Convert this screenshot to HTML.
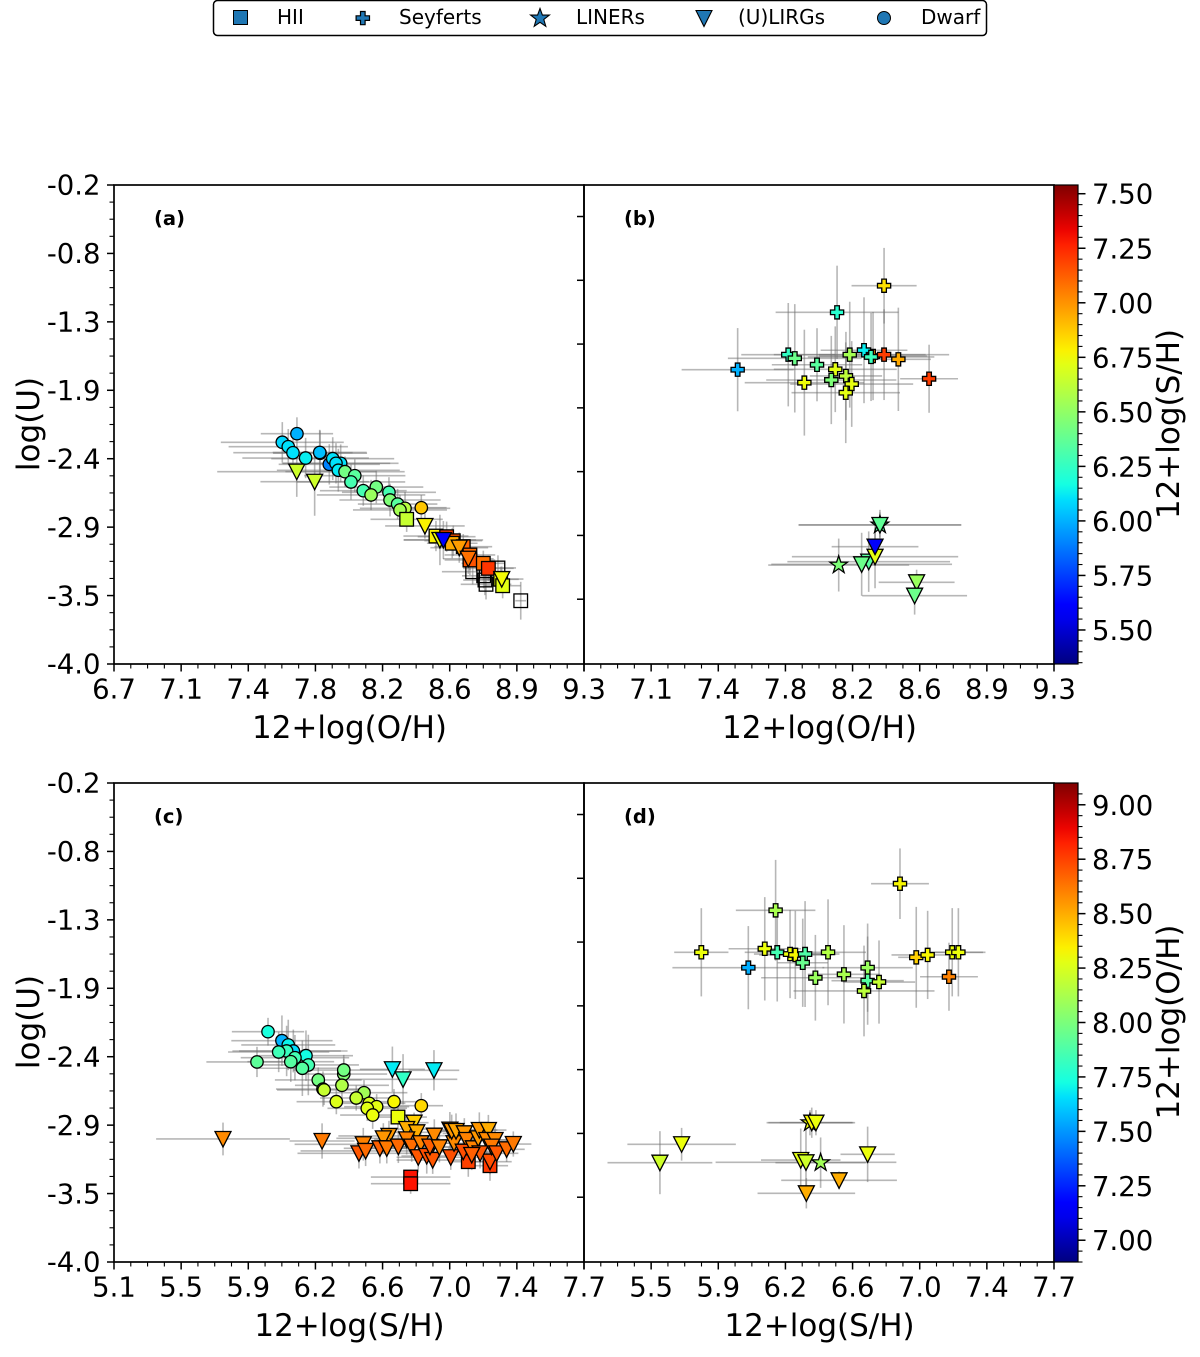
<!DOCTYPE html>
<html lang="en">
<head>
<meta charset="utf-8">
<title>Ionization parameter versus abundance</title>
<style>
html,body{margin:0;padding:0;background:#fff;}
svg{display:block;font-family:"DejaVu Sans","Liberation Sans",sans-serif;}
</style>
</head>
<body>
<svg id="figure" xmlns="http://www.w3.org/2000/svg" width="1200" height="1357" viewBox="0 0 1200 1357">
  <g>
    <rect x="213.5" y="0.5" width="773" height="35" rx="4" fill="#fff" stroke="#000" stroke-width="1.5"/>
    <g>
      <rect x="233.5" y="10.5" width="14" height="14" fill="#1f77b4" stroke="#000" stroke-width="1"/>
      <text x="277" y="24" font-size="20">HII</text>
    </g>
    <g>
      <path d="M360.5 11.5h4.6v4.3h4.4v4.6h-4.4v4.3h-4.6v-4.3h-4.4v-4.6h4.4z" fill="#1f77b4" stroke="#000" stroke-width="1.2"/>
      <text x="399" y="24" font-size="20">Seyferts</text>
    </g>
    <g>
      <path d="M540 8.5l2.4 6.6 7-.0-5.6 4.4 2 6.8-5.8-4-5.8 4 2-6.8-5.6-4.4 7 0z" fill="#1f77b4" stroke="#000" stroke-width="1.1"/>
      <text x="576" y="24" font-size="20">LINERs</text>
    </g>
    <g>
      <path d="M696 10.5h16l-8 16z" fill="#1f77b4" stroke="#000" stroke-width="1.1"/>
      <text x="738" y="24" font-size="20">(U)LIRGs</text>
    </g>
    <g>
      <circle cx="884" cy="18" r="6.5" fill="#1f77b4" stroke="#000" stroke-width="1"/>
      <text x="921" y="24" font-size="20">Dwarf</text>
    </g>
  </g>
</svg>
<script>
// ---------- tick labels ----------
const yTickLabels = ['-0.2','-0.8','-1.3','-1.9','-2.4','-2.9','-3.5','-4.0'];
const xTickLabelsOH = ['6.7','7.1','7.4','7.8','8.2','8.6','8.9','9.3'];
const xTickLabelsSH = ['5.1','5.5','5.9','6.2','6.6','7.0','7.4','7.7'];
const cbTicksSH = ['5.50','5.75','6.00','6.25','6.50','6.75','7.00','7.25','7.50'];
const cbTicksOH = ['7.00','7.25','7.50','7.75','8.00','8.25','8.50','8.75','9.00'];
const rightPanelYTicks = [-0.45,-0.956,-1.462,-1.968,-2.474,-2.98,-3.486];

// ---------- panel (a) ----------
const aDwarfX = [7.712,7.631,7.664,7.690,7.760,7.840,7.838,7.891,7.910,7.954,7.928,7.941,7.978,8.032,8.011,8.079,8.151,8.122,8.221,8.227,8.269,8.310,8.282,8.400];
const aDwarfY = [-2.173,-2.241,-2.276,-2.324,-2.366,-2.328,-2.322,-2.416,-2.371,-2.408,-2.408,-2.463,-2.474,-2.506,-2.556,-2.625,-2.596,-2.659,-2.638,-2.699,-2.731,-2.765,-2.778,-2.760];
const aDwarfZ = [6.00,6.08,6.10,6.10,6.13,5.70,6.03,5.90,6.10,6.10,6.10,6.12,6.42,6.35,6.30,6.30,6.42,6.52,6.30,6.45,6.35,6.60,6.55,6.88];
const aDwarfXe = [0.20,0.34,0.33,0.33,0.35,0.26,0.26,0.28,0.34,0.32,0.30,0.34,0.33,0.28,0.30,0.24,0.26,0.30,0.26,0.28,0.22,0.25,0.26,0.14];
const aDwarfYe = [0.13,0.16,0.14,0.15,0.16,0.18,0.18,0.16,0.17,0.15,0.16,0.17,0.12,0.13,0.14,0.12,0.13,0.12,0.12,0.13,0.12,0.13,0.12,0.10];

const aHiiX = [8.684,8.752,8.758,8.745,8.824,8.950,8.319,8.481,8.540,8.577,8.571,8.632,8.669,8.669,8.743,8.771,8.839,8.850];
const aHiiY = [-3.268,-3.334,-3.368,-3.300,-3.238,-3.498,-2.852,-2.985,-2.990,-3.022,-3.042,-3.069,-3.135,-3.175,-3.201,-3.241,-3.328,-3.379];
const aHiiZ = [null,null,null,null,null,null,6.64,6.78,7.20,7.15,6.95,7.10,7.10,7.15,7.08,7.22,6.75,6.72];
const aHiiXe = [0.17,0.12,0.14,0.12,0.10,0.03,0.20,0.18,0.16,0.16,0.14,0.16,0.14,0.14,0.12,0.14,0.10,0.10];
const aHiiYe = [0.10,0.12,0.12,0.10,0.10,0.15,0.10,0.12,0.12,0.12,0.12,0.10,0.12,0.12,0.10,0.10,0.10,0.10];

const aLirgX = [7.711,7.810,8.420,8.503,8.522,8.610,8.660,8.845];
const aLirgY = [-2.474,-2.554,-2.905,-3.016,-3.016,-3.077,-3.165,-3.326];
const aLirgZ = [6.66,6.66,6.78,6.75,5.60,6.98,7.08,6.76];
const aLirgXe = [0.44,0.30,0.22,0.20,0.22,0.16,0.14,0.12];
const aLirgYe = [0.20,0.27,0.10,0.20,0.15,0.12,0.12,0.10];

// ---------- panel (b) ----------
const bSeyX = [8.360,8.100,7.830,7.866,7.550,7.989,8.090,7.919,8.068,8.149,8.181,8.148,8.170,8.249,8.299,8.288,8.360,8.439,8.609];
const bSeyY = [-0.999,-1.210,-1.546,-1.575,-1.665,-1.626,-1.662,-1.768,-1.747,-1.715,-1.779,-1.848,-1.546,-1.511,-1.557,-1.564,-1.546,-1.583,-1.737];
const bSeyZ = [6.82,6.22,6.25,6.40,6.00,6.35,6.72,6.75,6.45,6.62,6.73,6.72,6.55,6.13,7.00,6.27,7.20,6.95,7.20];
const bSeyXe = [0.18,0.34,0.26,0.37,0.31,0.25,0.34,0.33,0.36,0.20,0.34,0.30,0.42,0.24,0.30,0.35,0.36,0.18,0.16];
const bSeyYe = [0.30,0.37,0.41,0.43,0.33,0.29,0.34,0.42,0.35,0.35,0.34,0.40,0.42,0.42,0.35,0.35,0.36,0.41,0.27];

const bLinerX = [8.337,8.109];
const bLinerY = [-2.897,-3.215];
const bLinerZ = [6.35,6.45];
const bLinerXe = [0.45,0.39];
const bLinerYe = [0.12,0.21];

const bLirgX = [8.337,8.275,8.236,8.310,8.310,8.540,8.529];
const bLirgY = [-2.897,-3.188,-3.209,-3.149,-3.069,-3.352,-3.458];
const bLirgZ = [6.37,6.35,6.40,6.72,5.58,6.52,6.40];
const bLirgXe = [0.45,0.45,0.50,0.46,0.24,0.21,0.29];
const bLirgYe = [0.10,0.24,0.25,0.25,0.15,0.10,0.15];

// ---------- panel (c) ----------
const cDwarfX = [5.952,6.029,6.064,6.092,6.055,6.011,6.162,6.101,6.078,6.175,6.142,5.891,6.230,6.256,6.262,6.371,6.371,6.361,6.330,6.483,6.440,6.512,6.553,6.501,6.531,6.649,6.800];
const cDwarfY = [-2.173,-2.244,-2.278,-2.326,-2.326,-2.334,-2.363,-2.379,-2.411,-2.437,-2.463,-2.413,-2.556,-2.628,-2.635,-2.509,-2.477,-2.598,-2.728,-2.657,-2.699,-2.741,-2.768,-2.781,-2.834,-2.728,-2.760];
const cDwarfZ = [7.74,7.56,7.70,7.65,7.82,7.84,7.72,7.85,7.90,7.85,7.90,7.92,7.98,8.00,8.20,8.02,7.98,8.14,8.26,8.10,8.20,8.25,8.28,8.27,8.30,8.33,8.40];
const cDwarfXe = [0.20,0.28,0.26,0.30,0.30,0.28,0.26,0.30,0.24,0.28,0.26,0.28,0.24,0.26,0.26,0.24,0.28,0.26,0.22,0.24,0.20,0.20,0.18,0.22,0.18,0.14,0.12];
const cDwarfYe = [0.11,0.20,0.20,0.17,0.20,0.16,0.20,0.18,0.16,0.24,0.22,0.12,0.10,0.14,0.12,0.12,0.12,0.12,0.10,0.10,0.10,0.10,0.10,0.10,0.11,0.10,0.10];

const cHiiX = [6.671,6.741,6.741,7.060,7.180];
const cHiiY = [-2.850,-3.326,-3.379,-3.204,-3.236];
const cHiiZ = [8.30,8.86,8.86,8.75,8.77];
const cHiiXe = [0.16,0.22,0.22,0.10,0.10];
const cHiiYe = [0.10,0.06,0.08,0.12,0.12];

const cLirgX = [6.640,6.699,6.870,5.703,6.251,6.760,6.719,6.775,6.621,6.590,6.479,6.455,6.492,6.571,6.609,6.673,6.719,6.747,6.797,6.783,6.830,6.863,6.848,6.872,6.900,6.963,6.981,6.958,6.968,6.992,7.038,7.051,7.032,7.088,7.115,7.121,7.171,7.162,7.208,7.180,7.125,7.189,7.217,7.272,7.309,7.079];
const cLirgY = [-2.471,-2.551,-2.479,-3.024,-3.040,-2.895,-2.945,-2.971,-3.000,-3.019,-3.066,-3.138,-3.119,-3.098,-3.098,-3.085,-3.027,-3.085,-3.058,-3.169,-3.159,-3.191,-3.085,-2.998,-3.090,-3.169,-3.058,-2.950,-2.961,-2.961,-2.979,-3.032,-3.125,-3.098,-3.019,-2.953,-2.953,-3.032,-3.032,-3.204,-3.138,-3.085,-3.138,-3.106,-3.064,-3.151];
const cLirgZ = [7.68,7.80,7.68,8.58,8.62,8.42,8.50,8.50,8.55,8.55,8.60,8.70,8.65,8.68,8.62,8.66,8.60,8.65,8.60,8.70,8.72,8.70,8.68,8.58,8.60,8.72,8.58,8.55,8.55,8.52,8.55,8.60,8.72,8.60,8.55,8.55,8.50,8.58,8.58,8.72,8.70,8.62,8.70,8.65,8.62,8.68];
const cLirgXe = [0.18,0.30,0.14,0.37,0.18,0.08,0.12,0.14,0.28,0.26,0.38,0.34,0.36,0.20,0.16,0.20,0.18,0.16,0.20,0.12,0.14,0.20,0.20,0.18,0.14,0.16,0.14,0.12,0.12,0.14,0.12,0.14,0.16,0.14,0.12,0.10,0.10,0.12,0.12,0.12,0.12,0.14,0.12,0.10,0.10,0.14];
const cLirgYe = [0.18,0.20,0.16,0.13,0.14,0.08,0.10,0.12,0.12,0.12,0.13,0.12,0.12,0.12,0.12,0.13,0.12,0.12,0.14,0.12,0.14,0.11,0.12,0.13,0.12,0.10,0.12,0.14,0.13,0.14,0.12,0.10,0.12,0.12,0.12,0.14,0.12,0.12,0.12,0.10,0.12,0.12,0.12,0.10,0.10,0.12];

// ---------- panel (d) ----------
const dSeyX = [6.848,6.160,5.749,6.100,6.169,6.240,6.269,6.323,6.310,6.450,6.009,6.380,6.538,6.669,6.669,6.649,6.732,6.938,7.001,7.137,7.171,7.119];
const dSeyY = [-0.999,-1.210,-1.543,-1.515,-1.543,-1.557,-1.564,-1.557,-1.626,-1.543,-1.665,-1.745,-1.718,-1.665,-1.768,-1.850,-1.779,-1.583,-1.564,-1.543,-1.543,-1.737];
const dSeyZ = [8.33,8.12,8.30,8.30,7.85,8.30,8.33,7.88,7.95,8.15,7.55,8.08,8.12,8.08,7.90,8.17,8.20,8.42,8.33,8.30,8.30,8.60];
const dSeyXe = [0.16,0.22,0.15,0.20,0.18,0.20,0.20,0.19,0.14,0.21,0.42,0.30,0.20,0.25,0.20,0.39,0.20,0.10,0.20,0.17,0.15,0.16];
const dSeyYe = [0.28,0.40,0.35,0.41,0.39,0.35,0.35,0.42,0.35,0.42,0.33,0.34,0.39,0.35,0.35,0.36,0.33,0.40,0.35,0.35,0.35,0.27];

const dLinerX = [6.350,6.409];
const dLinerY = [-2.895,-3.212];
const dLinerZ = [8.30,8.10];
const dLinerXe = [0.24,0.25];
const dLinerYe = [0.10,0.20];

const dLirgX = [5.640,5.520,6.360,6.383,6.299,6.328,6.669,6.511,6.330];
const dLirgY = [-3.066,-3.212,-2.895,-2.895,-3.191,-3.209,-3.146,-3.352,-3.455];
const dLirgZ = [8.30,8.22,8.33,8.30,8.28,8.22,8.30,8.50,8.50];
const dLirgXe = [0.30,0.29,0.24,0.20,0.22,0.50,0.15,0.32,0.27];
const dLirgYe = [0.13,0.25,0.12,0.10,0.25,0.30,0.22,0.07,0.12];

// ---------- helpers ----------
const NS = 'http://www.w3.org/2000/svg';
const svg = document.getElementById('figure');
function mk(tag, attrs, parent) {
  const el = document.createElementNS(NS, tag);
  for (const k in attrs) el.setAttribute(k, attrs[k]);
  (parent || svg).appendChild(el);
  return el;
}
function clamp01(v) { return Math.max(0, Math.min(1, v)); }
function jet(t) {
  const r = t < 0.89 ? clamp01((t - 0.35) / 0.31) : 1 - (t - 0.89) / 0.11 * 0.5;
  const g = t < 0.64 ? clamp01((t - 0.125) / 0.25) : clamp01(1 - (t - 0.64) / 0.27);
  const b = t < 0.11 ? 0.5 + t / 0.11 * 0.5 : clamp01(1 - (t - 0.34) / 0.31);
  return 'rgb(' + Math.round(255 * r) + ',' + Math.round(255 * g) + ',' + Math.round(255 * b) + ')';
}
const PANEL_W = 470, PANEL_H = 479, Y_TOP = -0.2, Y_BOTTOM = -4.0;
const CB_W = 24, TICK_FONT = 27.5, LABEL_FONT = 31;

function markerPath(shape, x, y) {
  if (shape === 'triangle') return 'M' + (x - 8) + ' ' + (y - 7.5) + 'h16l-8 15.5z';
  if (shape === 'plus') {
    const a = 6.6, b = 2.3;
    return 'M' + (x - b) + ' ' + (y - a) + 'h' + (2 * b) + 'v' + (a - b) + 'h' + (a - b) + 'v' + (2 * b) + 'h' + (b - a) + 'v' + (a - b) + 'h' + (-2 * b) + 'v' + (b - a) + 'h' + (b - a) + 'v' + (-2 * b) + 'h' + (a - b) + 'z';
  }
  let d = '';
  for (let i = 0; i < 10; i++) {
    const r = i % 2 ? 3.6 : 9.2, ang = -Math.PI / 2 + i * Math.PI / 5;
    d += (i ? 'L' : 'M') + (x + r * Math.cos(ang)).toFixed(2) + ' ' + (y + r * Math.sin(ang)).toFixed(2);
  }
  return d + 'z';
}

function drawSeries(group, s, sx, sy) {
  const errs = mk('g', {}, group);
  
  
  s.x.forEach((v, i) => {
    const h = mk('line', {x1: sx(v - s.xe[i]), x2: sx(v + s.xe[i]), y1: sy(s.y[i]), y2: sy(s.y[i]), stroke: '#707070', 'stroke-opacity': 0.5, 'stroke-width': 1.6}, errs);
    
    
    const w = mk('line', {x1: sx(v), x2: sx(v), y1: sy(s.y[i] - s.ye[i]), y2: sy(s.y[i] + s.ye[i]), stroke: '#707070', 'stroke-opacity': 0.5, 'stroke-width': 1.6}, errs);
    
    
  });
}
function drawMarkers(group, s, sx, sy, color) {
  const marks = mk('g', {}, group);
  
  
  s.x.forEach((v, i) => {
    const px = sx(v), py = sy(s.y[i]);
    const fill = s.z[i] === null ? 'none' : color(s.z[i]);
    let el;
    if (s.shape === 'circle') el = mk('circle', {cx: px, cy: py, r: 6.2}, marks);
    else if (s.shape === 'square') el = mk('rect', {x: px - 6.8, y: py - 6.8, width: 13.6, height: 13.6}, marks);
    else el = mk('path', {d: markerPath(s.shape, px, py), 'stroke-linejoin': 'miter'}, marks);
    el.setAttribute('fill', fill);
    el.setAttribute('stroke', '#000');
    el.setAttribute('stroke-width', '1.3');
    
    
  });
}

function drawPanel(p) {
  const g = mk('g', {});
  
  
  const sx = v => p.left + (v - p.xMin) / (p.xMax - p.xMin) * PANEL_W;
  const sy = v => p.top + (Y_TOP - v) / (Y_TOP - Y_BOTTOM) * PANEL_H;
  const color = z => jet((z - p.zMin) / (p.zMax - p.zMin));
  const bottom = p.top + PANEL_H;

  p.series.forEach(s => drawSeries(g, s, sx, sy));
  p.series.forEach(s => drawMarkers(g, s, sx, sy, color));

  // x axis: evenly spaced labelled ticks, three minor ticks between
  const n = p.xLabels.length;
  for (let i = 0; i < n; i++) {
    const v = p.xMin + i * (p.xMax - p.xMin) / (n - 1), px = sx(v);
    const t = mk('line', {x1: px, x2: px, y1: bottom, y2: bottom + 7.5, stroke: '#000', 'stroke-width': 1.5}, g);
    
    
    if (i < n - 1) for (let m = 1; m < 4; m++) {
      const mx = px + m * PANEL_W / (n - 1) / 4;
      const mt = mk('line', {x1: mx, x2: mx, y1: bottom, y2: bottom + 4.5, stroke: '#000', 'stroke-width': 1.1}, g);
      
      
    }
    if (i === 0 && !p.showFirstX) continue;
    const lab = mk('text', {x: px, y: bottom + 34.5, 'text-anchor': 'middle', 'font-size': TICK_FONT}, g);
    lab.textContent = p.xLabels[i];
    
    
  }
  const xt = mk('text', {x: p.left + PANEL_W / 2 + 0.5, y: bottom + 74, 'text-anchor': 'middle', 'font-size': LABEL_FONT}, g);
  xt.textContent = p.xTitle;
  
  

  // y axis
  if (p.yLabels) {
    const m = p.yLabels.length;
    for (let i = 0; i < m; i++) {
      const v = Y_TOP + i * (Y_BOTTOM - Y_TOP) / (m - 1), py = sy(v);
      const t = mk('line', {x1: p.left - 7, x2: p.left, y1: py, y2: py, stroke: '#000', 'stroke-width': 1.5}, g);
      
      
      if (i < m - 1) for (let k = 1; k < 4; k++) {
        const my = py + k * PANEL_H / (m - 1) / 4;
        const mt = mk('line', {x1: p.left - 4.5, x2: p.left, y1: my, y2: my, stroke: '#000', 'stroke-width': 1.1}, g);
        
        
      }
      const lab = mk('text', {x: p.left - 13.5, y: py + 9.7, 'text-anchor': 'end', 'font-size': TICK_FONT}, g);
      lab.textContent = p.yLabels[i];
      
      
    }
    const cy = p.top + 239;
    const yt = mk('text', {x: 0, y: 0, 'text-anchor': 'middle', 'font-size': LABEL_FONT, transform: 'translate(39 ' + cy + ') rotate(-90)'}, g);
    yt.textContent = 'log(U)';
    
    
  } else {
    rightPanelYTicks.forEach(v => {
      const t = mk('line', {x1: p.left - 7, x2: p.left, y1: sy(v), y2: sy(v), stroke: '#000', 'stroke-width': 1.5}, g);
      
      
    });
  }

  const frame = mk('rect', {x: p.left, y: p.top, width: PANEL_W, height: PANEL_H, fill: 'none', stroke: '#000', 'stroke-width': 1.7}, g);
  
  

  const tag = mk('text', {x: p.left + 40, y: p.top + 40, 'font-size': 19.5, 'font-weight': 'bold'}, g);
  tag.textContent = '(' + p.id + ')';
  
  

  if (p.cbLabels) drawColorbar(p);
}

function drawColorbar(p) {
  const g = mk('g', {});
  
  
  const x0 = p.left + PANEL_W;
  const defs = mk('defs', {}, g);
  const grad = mk('linearGradient', {id: 'jet-' + p.id, x1: 0, y1: 1, x2: 0, y2: 0}, defs);
  for (let i = 0; i <= 32; i++) mk('stop', {offset: i / 32, 'stop-color': jet(i / 32)}, grad);
  const bar = mk('rect', {x: x0, y: p.top, width: CB_W, height: PANEL_H, fill: 'url(#jet-' + p.id + ')', stroke: '#000', 'stroke-width': 1.2}, g);
  
  
  const cy = z => p.top + (p.zMax - z) / (p.zMax - p.zMin) * PANEL_H;
  const right = x0 + CB_W;
  p.cbLabels.forEach(lbl => {
    const z = Number(lbl), py = cy(z);
    const t = mk('line', {x1: right, x2: right + 7.5, y1: py, y2: py, stroke: '#000', 'stroke-width': 1.5}, g);
    
    
    const lab = mk('text', {x: right + 14, y: py + 10, 'font-size': TICK_FONT}, g);
    lab.textContent = lbl;
    
    
  });
  const start = Math.ceil(p.zMin / 0.05), end = Math.floor(p.zMax / 0.05);
  for (let k = start; k <= end; k++) {
    if (k % 5 === 0) continue;
    const py = cy(k * 0.05);
    const mt = mk('line', {x1: right, x2: right + 4.5, y1: py, y2: py, stroke: '#000', 'stroke-width': 1.1}, g);
    
    
  }
  const title = mk('text', {x: 0, y: 0, 'text-anchor': 'middle', 'font-size': LABEL_FONT, transform: 'translate(1179 ' + (p.top + 239) + ') rotate(-90)'}, g);
  title.textContent = p.cbTitle;
  
  
}

const panels = [
  {id: 'a', left: 114, top: 185, xMin: 6.7, xMax: 9.3, zMin: 5.344, zMax: 7.54, xLabels: xTickLabelsOH, yLabels: yTickLabels, showFirstX: true, xTitle: '12+log(O/H)',
   series: [
    {name: 'dwarf', shape: 'circle', x: aDwarfX, y: aDwarfY, z: aDwarfZ, xe: aDwarfXe, ye: aDwarfYe},
    {name: 'hii', shape: 'square', x: aHiiX, y: aHiiY, z: aHiiZ, xe: aHiiXe, ye: aHiiYe},
    {name: 'lirg', shape: 'triangle', x: aLirgX, y: aLirgY, z: aLirgZ, xe: aLirgXe, ye: aLirgYe}]},
  {id: 'b', left: 584, top: 185, xMin: 6.7, xMax: 9.3, zMin: 5.344, zMax: 7.54, xLabels: xTickLabelsOH, yLabels: null, showFirstX: false, xTitle: '12+log(O/H)', cbLabels: cbTicksSH, cbTitle: '12+log(S/H)',
   series: [
    {name: 'seyfert', shape: 'plus', x: bSeyX, y: bSeyY, z: bSeyZ, xe: bSeyXe, ye: bSeyYe},
    {name: 'liner', shape: 'star', x: bLinerX, y: bLinerY, z: bLinerZ, xe: bLinerXe, ye: bLinerYe},
    {name: 'lirg', shape: 'triangle', x: bLirgX, y: bLirgY, z: bLirgZ, xe: bLirgXe, ye: bLirgYe}]},
  {id: 'c', left: 114, top: 783, xMin: 5.1, xMax: 7.7, zMin: 6.9, zMax: 9.1, xLabels: xTickLabelsSH, yLabels: yTickLabels, showFirstX: true, xTitle: '12+log(S/H)',
   series: [
    {name: 'dwarf', shape: 'circle', x: cDwarfX, y: cDwarfY, z: cDwarfZ, xe: cDwarfXe, ye: cDwarfYe},
    {name: 'hii', shape: 'square', x: cHiiX, y: cHiiY, z: cHiiZ, xe: cHiiXe, ye: cHiiYe},
    {name: 'lirg', shape: 'triangle', x: cLirgX, y: cLirgY, z: cLirgZ, xe: cLirgXe, ye: cLirgYe}]},
  {id: 'd', left: 584, top: 783, xMin: 5.1, xMax: 7.7, zMin: 6.9, zMax: 9.1, xLabels: xTickLabelsSH, yLabels: null, showFirstX: false, xTitle: '12+log(S/H)', cbLabels: cbTicksOH, cbTitle: '12+log(O/H)',
   series: [
    {name: 'seyfert', shape: 'plus', x: dSeyX, y: dSeyY, z: dSeyZ, xe: dSeyXe, ye: dSeyYe},
    {name: 'liner', shape: 'star', x: dLinerX, y: dLinerY, z: dLinerZ, xe: dLinerXe, ye: dLinerYe},
    {name: 'lirg', shape: 'triangle', x: dLirgX, y: dLirgY, z: dLirgZ, xe: dLirgXe, ye: dLirgYe}]}
];
panels.forEach(drawPanel);
</script>
</body>
</html>
